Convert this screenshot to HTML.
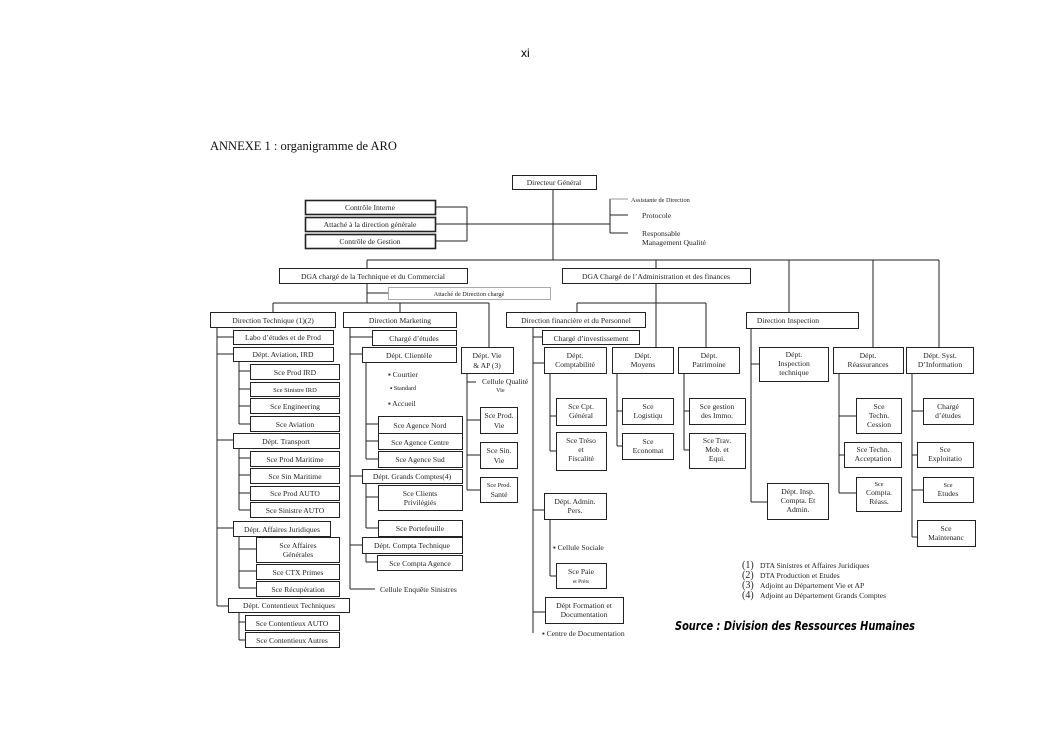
<!DOCTYPE html>
<html><head><meta charset="utf-8"><style>
html,body{margin:0;padding:0;background:#fff;}
svg{display:block;}
text{font-family:"Liberation Serif",serif;fill:#222;font-size:7.6px;}
</style></head><body>
<svg width="1053" height="745" viewBox="0 0 1053 745" xmlns="http://www.w3.org/2000/svg">
<text x="521" y="57" style="font-family:'Liberation Sans',sans-serif;font-size:12px;fill:#000">xi</text>
<text x="210" y="150" style="font-size:12.5px;fill:#111">ANNEXE 1 : organigramme de ARO</text>

<g stroke="#222" stroke-width="1" fill="none">
<line x1="553" y1="189" x2="553" y2="260"/>
<line x1="435" y1="207" x2="467" y2="207"/><line x1="435" y1="241" x2="467" y2="241"/><line x1="467" y1="207" x2="467" y2="241"/>
<line x1="435" y1="224" x2="610" y2="224"/>
<line x1="610" y1="199" x2="610" y2="233"/><line x1="610" y1="199" x2="628" y2="199" stroke="#999"/>
<line x1="610" y1="215" x2="628" y2="215"/><line x1="610" y1="233" x2="628" y2="233"/>
<line x1="367" y1="260" x2="939" y2="260"/>
<line x1="367" y1="260" x2="367" y2="268"/><line x1="656" y1="260" x2="656" y2="268"/>
<line x1="789" y1="260" x2="789" y2="312"/><line x1="873" y1="260" x2="873" y2="347"/><line x1="939" y1="260" x2="939" y2="347"/>
<line x1="367" y1="283" x2="367" y2="303"/><line x1="367" y1="293" x2="388" y2="293"/>
<line x1="273" y1="303" x2="489" y2="303"/>
<line x1="273" y1="303" x2="273" y2="312"/><line x1="400" y1="303" x2="400" y2="312"/><line x1="489" y1="303" x2="489" y2="347"/>
<line x1="656" y1="283" x2="656" y2="347"/>
<line x1="577" y1="303" x2="706" y2="303"/><line x1="577" y1="303" x2="577" y2="312"/><line x1="706" y1="303" x2="706" y2="347"/>
<line x1="217" y1="327" x2="217" y2="606"/>
<line x1="217" y1="337" x2="233" y2="337"/><line x1="217" y1="354" x2="233" y2="354"/><line x1="217" y1="440" x2="233" y2="440"/><line x1="217" y1="528" x2="233" y2="528"/><line x1="217" y1="606" x2="228" y2="606"/>
<line x1="239" y1="361" x2="239" y2="424"/>
<line x1="239" y1="371" x2="250" y2="371"/><line x1="239" y1="389" x2="250" y2="389"/><line x1="239" y1="406" x2="250" y2="406"/><line x1="239" y1="424" x2="250" y2="424"/>
<line x1="239" y1="448" x2="239" y2="510"/>
<line x1="239" y1="458" x2="250" y2="458"/><line x1="239" y1="475" x2="250" y2="475"/><line x1="239" y1="493" x2="250" y2="493"/><line x1="239" y1="510" x2="250" y2="510"/>
<line x1="239" y1="536" x2="239" y2="588"/>
<line x1="239" y1="549" x2="256" y2="549"/><line x1="239" y1="571" x2="256" y2="571"/><line x1="239" y1="588" x2="256" y2="588"/>
<line x1="239" y1="612" x2="239" y2="640"/>
<line x1="239" y1="622" x2="245" y2="622"/><line x1="239" y1="640" x2="245" y2="640"/>
<line x1="350" y1="327" x2="350" y2="589"/>
<line x1="350" y1="337" x2="372" y2="337"/><line x1="350" y1="354" x2="362" y2="354"/><line x1="350" y1="476" x2="362" y2="476"/><line x1="350" y1="545" x2="362" y2="545"/><line x1="350" y1="589" x2="375" y2="589"/>
<line x1="366" y1="362" x2="366" y2="459"/>
<line x1="366" y1="424" x2="378" y2="424"/><line x1="366" y1="441" x2="378" y2="441"/><line x1="366" y1="459" x2="378" y2="459"/>
<line x1="366" y1="483" x2="366" y2="528"/>
<line x1="366" y1="497" x2="378" y2="497"/><line x1="366" y1="528" x2="378" y2="528"/>
<line x1="366" y1="553" x2="366" y2="562"/><line x1="366" y1="562" x2="377" y2="562"/>
<line x1="467" y1="373" x2="467" y2="490"/>
<line x1="467" y1="382" x2="476" y2="382"/><line x1="467" y1="420" x2="480" y2="420"/><line x1="467" y1="455" x2="480" y2="455"/><line x1="467" y1="490" x2="480" y2="490"/>
<line x1="533" y1="327" x2="533" y2="633"/>
<line x1="533" y1="337" x2="542" y2="337"/><line x1="533" y1="363" x2="544" y2="363"/><line x1="533" y1="510" x2="544" y2="510"/><line x1="533" y1="612" x2="545" y2="612"/>
<line x1="550" y1="373" x2="550" y2="451"/><line x1="550" y1="416" x2="556" y2="416"/><line x1="550" y1="451" x2="556" y2="451"/>
<line x1="617" y1="373" x2="617" y2="446"/><line x1="617" y1="411" x2="622" y2="411"/><line x1="617" y1="446" x2="622" y2="446"/>
<line x1="684" y1="373" x2="684" y2="450"/><line x1="684" y1="411" x2="689" y2="411"/><line x1="684" y1="450" x2="689" y2="450"/>
<line x1="550" y1="519" x2="550" y2="576"/><line x1="550" y1="576" x2="556" y2="576"/>
<line x1="751" y1="329" x2="751" y2="502"/><line x1="751" y1="364" x2="759" y2="364"/><line x1="751" y1="502" x2="767" y2="502"/>
<line x1="839" y1="373" x2="839" y2="493"/><line x1="839" y1="416" x2="856" y2="416"/><line x1="839" y1="455" x2="844" y2="455"/><line x1="839" y1="493" x2="856" y2="493"/>
<line x1="912" y1="373" x2="912" y2="537"/><line x1="912" y1="411" x2="923" y2="411"/><line x1="912" y1="455" x2="917" y2="455"/><line x1="912" y1="490" x2="923" y2="490"/><line x1="912" y1="537" x2="917" y2="537"/>
</g>

<g stroke="#222" stroke-width="1" fill="#fff">
<rect x="512.5" y="175.5" width="84" height="14"/>
<rect x="305.5" y="200.5" width="130" height="14" stroke-width="1.6"/>
<rect x="305.5" y="217.5" width="130" height="14" stroke-width="1.6"/>
<rect x="305.5" y="234.5" width="130" height="14" stroke-width="1.6"/>
<rect x="279.5" y="268.5" width="188" height="15"/>
<rect x="562.5" y="268.5" width="188" height="15"/>
<rect x="388.5" y="287.5" width="162" height="12" stroke="#aaa"/>
<rect x="210.5" y="312.5" width="125" height="15"/>
<rect x="343.5" y="312.5" width="113" height="15"/>
<rect x="506.5" y="312.5" width="139" height="15"/>
<rect x="746.5" y="312.5" width="112" height="16"/>
<rect x="233.5" y="330.5" width="100" height="14"/>
<rect x="233.5" y="347.5" width="100" height="14"/>
<rect x="250.5" y="364.5" width="89" height="15"/>
<rect x="250.5" y="382.5" width="89" height="14"/>
<rect x="250.5" y="398.5" width="89" height="15"/>
<rect x="250.5" y="416.5" width="89" height="15"/>
<rect x="233.5" y="433.5" width="106" height="15"/>
<rect x="250.5" y="451.5" width="89" height="15"/>
<rect x="250.5" y="468.5" width="89" height="15"/>
<rect x="250.5" y="486.5" width="89" height="14"/>
<rect x="250.5" y="502.5" width="89" height="15"/>
<rect x="233.5" y="521.5" width="97" height="15"/>
<rect x="256.5" y="537.5" width="83" height="25"/>
<rect x="256.5" y="564.5" width="83" height="15"/>
<rect x="256.5" y="581.5" width="83" height="15"/>
<rect x="228.5" y="598.5" width="121" height="14"/>
<rect x="245.5" y="615.5" width="94" height="15"/>
<rect x="245.5" y="632.5" width="94" height="15"/>
<rect x="372.5" y="330.5" width="84" height="15"/>
<rect x="362.5" y="347.5" width="94" height="15"/>
<rect x="378.5" y="416.5" width="84" height="17"/>
<rect x="378.5" y="433.5" width="84" height="16"/>
<rect x="378.5" y="451.5" width="84" height="16"/>
<rect x="362.5" y="469.5" width="100" height="14"/>
<rect x="378.5" y="485.5" width="84" height="25"/>
<rect x="378.5" y="520.5" width="84" height="16"/>
<rect x="362.5" y="537.5" width="100" height="16"/>
<rect x="377.5" y="555.5" width="85" height="15"/>
<rect x="461.5" y="347.5" width="52" height="26"/>
<rect x="480.5" y="407.5" width="37" height="26"/>
<rect x="480.5" y="442.5" width="37" height="26"/>
<rect x="480.5" y="477.5" width="37" height="25"/>
<rect x="542.5" y="330.5" width="97" height="14"/>
<rect x="544.5" y="347.5" width="62" height="26"/>
<rect x="612.5" y="347.5" width="61" height="26"/>
<rect x="678.5" y="347.5" width="61" height="26"/>
<rect x="556.5" y="398.5" width="50" height="27"/>
<rect x="556.5" y="432.5" width="50" height="38"/>
<rect x="622.5" y="398.5" width="51" height="26"/>
<rect x="622.5" y="433.5" width="51" height="26"/>
<rect x="689.5" y="398.5" width="56" height="26"/>
<rect x="689.5" y="433.5" width="56" height="35"/>
<rect x="544.5" y="493.5" width="62" height="26"/>
<rect x="556.5" y="563.5" width="50" height="25"/>
<rect x="545.5" y="597.5" width="78" height="26"/>
<rect x="759.5" y="347.5" width="69" height="34"/>
<rect x="767.5" y="483.5" width="61" height="36"/>
<rect x="833.5" y="347.5" width="70" height="26"/>
<rect x="856.5" y="398.5" width="45" height="35"/>
<rect x="844.5" y="442.5" width="57" height="25"/>
<rect x="856.5" y="477.5" width="45" height="34"/>
<rect x="906.5" y="347.5" width="67" height="26"/>
<rect x="923.5" y="398.5" width="50" height="26"/>
<rect x="917.5" y="442.5" width="56" height="25"/>
<rect x="923.5" y="477.5" width="50" height="25"/>
<rect x="917.5" y="520.5" width="58" height="26"/>
</g>

<g text-anchor="middle">
<text x="554" y="185">Directeur Général</text>
<text x="370" y="210">Contrôle Interne</text>
<text x="370" y="227">Attaché à la direction générale</text>
<text x="370" y="244">Contrôle de Gestion</text>
<text x="373" y="279">DGA chargé de la Technique et du Commercial</text>
<text x="656" y="279">DGA Chargé de l’Administration et des finances</text>
<text x="469" y="296" style="font-size:6.3px">Attaché de Direction chargé</text>
<text x="273" y="323">Direction Technique (1)(2)</text>
<text x="400" y="323">Direction Marketing</text>
<text x="576" y="323">Direction financière et du Personnel</text>
<text x="788" y="323">Direction Inspection</text>
<text x="283" y="340">Labo d’études et de Prod</text>
<text x="283" y="357">Dépt. Aviation, IRD</text>
<text x="295" y="375">Sce Prod IRD</text>
<text x="295" y="392" style="font-size:6.5px">Sce Sinistre IRD</text>
<text x="295" y="409">Sce Engineering</text>
<text x="295" y="427">Sce Aviation</text>
<text x="286" y="444">Dépt. Transport</text>
<text x="295" y="462">Sce Prod Maritime</text>
<text x="295" y="479">Sce Sin Maritime</text>
<text x="295" y="496">Sce Prod AUTO</text>
<text x="295" y="513">Sce Sinistre AUTO</text>
<text x="282" y="532">Dépt. Affaires Juridiques</text>
<text x="298" y="548">Sce Affaires</text><text x="298" y="557">Générales</text>
<text x="298" y="575">Sce CTX Primes</text>
<text x="298" y="592">Sce Récupération</text>
<text x="289" y="608">Dépt. Contentieux Techniques</text>
<text x="292" y="626">Sce Contentieux AUTO</text>
<text x="292" y="643">Sce Contentieux Autres</text>
<text x="414" y="341">Chargé d’études</text>
<text x="409" y="358">Dépt. Clientèle</text>
<text x="420" y="428">Sce Agence Nord</text>
<text x="420" y="445">Sce Agence Centre</text>
<text x="420" y="462">Sce Agence Sud</text>
<text x="412" y="479">Dépt. Grands Comptes(4)</text>
<text x="420" y="496">Sce Clients</text><text x="420" y="505">Privilégiés</text>
<text x="420" y="531">Sce Portefeuille</text>
<text x="412" y="548">Dépt. Compta Technique</text>
<text x="420" y="566">Sce Compta Agence</text>
<text x="487" y="358">Dépt. Vie</text><text x="487" y="368">&amp; AP (3)</text>
<text x="499" y="418">Sce Prod.</text><text x="499" y="428">Vie</text>
<text x="499" y="453">Sce Sin.</text><text x="499" y="463">Vie</text>
<text x="499" y="487" style="font-size:6.3px">Sce Prod.</text><text x="499" y="497">Santé</text>
<text x="591" y="341">Chargé d’investissement</text>
<text x="575" y="358">Dépt.</text><text x="575" y="367">Comptabilité</text>
<text x="643" y="358">Dépt.</text><text x="643" y="367">Moyens</text>
<text x="709" y="358">Dépt.</text><text x="709" y="367">Patrimoine</text>
<text x="581" y="409">Sce Cpt.</text><text x="581" y="418">Général</text>
<text x="581" y="443">Sce Tréso</text><text x="581" y="452">et</text><text x="581" y="461">Fiscalité</text>
<text x="648" y="409">Sce</text><text x="648" y="418">Logistiqu</text>
<text x="648" y="444">Sce</text><text x="648" y="453">Economat</text>
<text x="717" y="409">Sce gestion</text><text x="717" y="418">des Immo.</text>
<text x="717" y="443">Sce Trav.</text><text x="717" y="452">Mob. et</text><text x="717" y="461">Equi.</text>
<text x="575" y="504">Dépt. Admin.</text><text x="575" y="513">Pers.</text>
<text x="581" y="574">Sce Paie</text><text x="581" y="583" style="font-size:5.5px">et Prêts</text>
<text x="584" y="608">Dépt Formation et</text><text x="584" y="617">Documentation</text>
<text x="794" y="357">Dépt.</text><text x="794" y="366">Inspection</text><text x="794" y="375">technique</text>
<text x="798" y="494">Dépt. Insp.</text><text x="798" y="503">Compta. Et</text><text x="798" y="512">Admin.</text>
<text x="868" y="358">Dépt.</text><text x="868" y="367">Réassurances</text>
<text x="879" y="409">Sce</text><text x="879" y="418">Techn.</text><text x="879" y="427">Cession</text>
<text x="873" y="452">Sce Techn.</text><text x="873" y="461">Acceptation</text>
<text x="879" y="486" style="font-size:6.3px">Sce</text><text x="879" y="495">Compta.</text><text x="879" y="504">Réass.</text>
<text x="940" y="358">Dépt. Syst.</text><text x="940" y="367">D’Information</text>
<text x="948" y="409">Chargé</text><text x="948" y="418">d’études</text>
<text x="945" y="452">Sce</text><text x="945" y="461">Exploitatio</text>
<text x="948" y="487" style="font-size:6.3px">Sce</text><text x="948" y="496">Etudes</text>
<text x="946" y="531">Sce</text><text x="946" y="540">Maintenanc</text>
</g>
<g>
<text x="631" y="202" style="font-size:6.3px">Assistante de Direction</text>
<text x="642" y="218">Protocole</text>
<text x="642" y="236">Responsable</text>
<text x="642" y="245">Management Qualité</text>
<text x="388" y="377">▪ Courtier</text>
<text x="390" y="390" style="font-size:6.3px">▪  Standard</text>
<text x="388" y="406">▪ Accueil</text>
<text x="482" y="384">Cellule Qualité</text>
<text x="496" y="392" style="font-size:6.3px">Vie</text>
<text x="553" y="550">▪ Cellule Sociale</text>
<text x="542" y="636">▪ Centre de Documentation</text>
<text x="380" y="592">Cellule Enquête Sinistres</text>
<text x="742" y="568" style="font-size:10px">(1)</text><text x="760" y="568">DTA Sinistres et Affaires Juridiques</text>
<text x="742" y="578" style="font-size:10px">(2)</text><text x="760" y="578">DTA Production et Etudes</text>
<text x="742" y="588" style="font-size:10px">(3)</text><text x="760" y="588">Adjoint au Département Vie et AP</text>
<text x="742" y="598" style="font-size:10px">(4)</text><text x="760" y="598">Adjoint au Département Grands Comptes</text>
<text x="675" y="630" textLength="240" lengthAdjust="spacingAndGlyphs" style="font-family:'DejaVu Sans','Liberation Sans',sans-serif;font-weight:bold;font-style:italic;font-size:12.5px;fill:#000">Source : Division des Ressources Humaines</text>
</g>
</svg>
</body></html>
